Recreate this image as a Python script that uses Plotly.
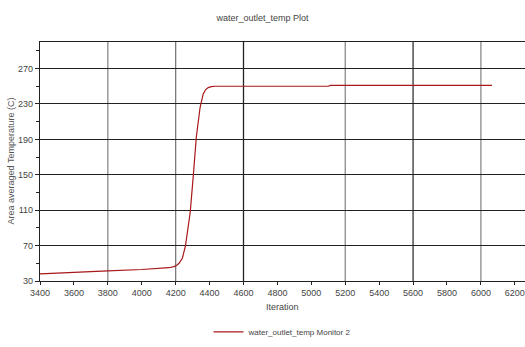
import plotly.graph_objects as go

iterations = [3400, 3600, 3800, 4000, 4100, 4160, 4190, 4205, 4220, 4240, 4258, 4286, 4304,
              4322, 4344, 4362, 4376, 4392, 4410, 4432, 4600, 5100, 5112, 5500, 6065]
temperature = [38, 40, 41.5, 43, 44, 45, 46.2, 47.5, 50, 56, 70, 108, 149,
               193, 226, 241, 246, 248.5, 249.6, 250, 250, 250, 251, 251, 251]

x_ticks = list(range(3400, 6201, 200))
y_ticks = [30, 70, 110, 150, 190, 230, 270]
vgrid = [3800, 4200, 4600, 5200, 5600, 6000]
vgrid_colors = ["#8a8a8a", "#7a7a7a", "#222222", "#8a8a8a", "#333333", "#8a8a8a"]

font = dict(family="Liberation Sans, Arial, sans-serif", size=9, color="#444444")

fig = go.Figure()
fig.add_trace(go.Scatter(x=iterations, y=temperature, mode="lines",
                         line=dict(color="#a81818", width=1.2),
                         name="water_outlet_temp Monitor 2"))

shapes = []
for xv, c in zip(vgrid, vgrid_colors):
    shapes.append(dict(type="line", xref="x", yref="paper", x0=xv, x1=xv, y0=0, y1=1,
                       line=dict(color=c, width=1.3), layer="below"))

fig.update_layout(
    width=525, height=347,
    margin=dict(l=40, r=0, t=42, b=61),
    paper_bgcolor="white", plot_bgcolor="white",
    font=font,
    title=dict(text="water_outlet_temp Plot", x=0.5, xanchor="center",
               y=1 - 18 / 347, yanchor="middle", yref="container",
               font=dict(size=9, color="#444444")),
    showlegend=True,
    legend=dict(x=0.5, xanchor="center", y=-0.213, yanchor="middle",
                orientation="h", itemwidth=30, font=dict(size=8, color="#444444")),
    shapes=shapes,
    xaxis=dict(range=[3400, 6260], tickvals=x_ticks, ticktext=[str(v) for v in x_ticks],
               showgrid=False, zeroline=False, showline=True, linecolor="#222222",
               linewidth=1.3, mirror=True, ticks="outside", ticklen=3,
               tickcolor="#222222", tickfont=dict(size=9, color="#444444")),
    yaxis=dict(range=[30, 300], tickvals=y_ticks, showgrid=True, gridcolor="#222222",
               gridwidth=1.2, zeroline=False, showline=True, linecolor="#222222",
               linewidth=1.3, ticks="outside", ticklen=4, tickcolor="#222222",
               minor=dict(dtick=20, tick0=30, ticks="outside", ticklen=3,
                          tickcolor="#222222", showgrid=False),
               tickfont=dict(size=9, color="#444444")),
    annotations=[
        dict(text="Iteration", xref="paper", yref="paper", x=0.5, y=(286 - 313) / 244,
             xanchor="center", yanchor="middle", showarrow=False,
             font=dict(size=9, color="#444444")),
        dict(text="Area averaged Temperature (C)", xref="paper", yref="paper",
             x=(10 - 40) / 485, y=0.5, textangle=-90, xanchor="center", yanchor="middle",
             showarrow=False, font=dict(size=9, color="#555555")),
    ],
)

fig.write_html("out.html")
